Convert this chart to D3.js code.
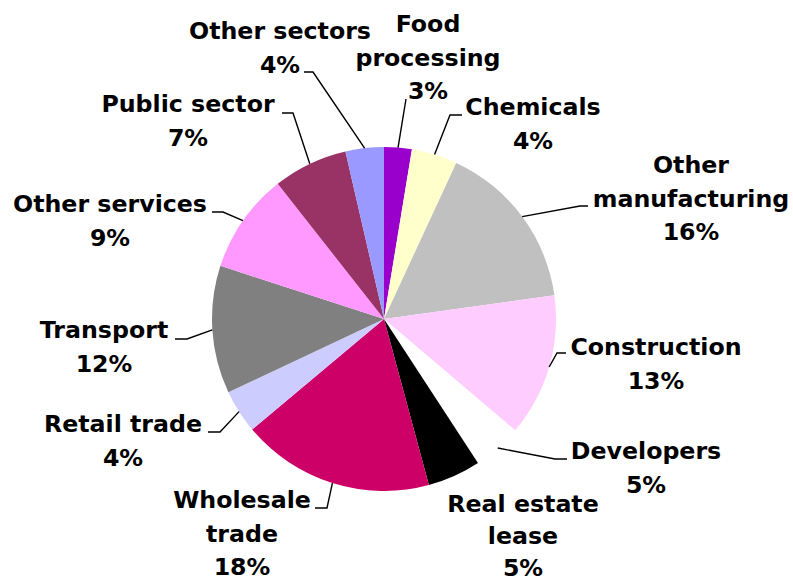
<!DOCTYPE html>
<html>
<head>
<meta charset="utf-8">
<script src="https://cdn.jsdelivr.net/npm/d3@7"></script>
<style>
  body { margin: 0; background: #fff; }
  svg text { font-family: "DejaVu Sans", Verdana, sans-serif; font-weight: bold; font-size: 23.7px; fill: #000; }
</style>
</head>
<body>
<svg id="pie_chart" width="793" height="583"></svg>
<script>
// sector shares, clockwise from 12 o'clock
var sectors = ["Food\nprocessing", "Chemicals", "Other\nmanufacturing", "Construction", "Developers",
               "Real estate\nlease", "Wholesale\ntrade", "Retail trade", "Transport", "Other services",
               "Public sector", "Other sectors"];
var shares = [2.6, 4.3, 15.9, 13.4, 4.6, 5.0, 18.1, 4.1, 12.0, 9.4, 7.0, 3.6];
var colors = ["#9900CC", "#FFFFCC", "#C0C0C0", "#FFCCFF", "#FFFFFF", "#000000",
              "#CC0066", "#CCCCFF", "#808080", "#FF99FF", "#993366", "#9999FF"];

// label placement (text centre x, first baseline y, line gap) and leader start / knee
var labelPos = [
    {x: 428, y: 32,  gap: 33.5, lx: 406, ly: 99,  kx: 406},
    {x: 533, y: 115, gap: 33.5, lx: 462, ly: 115, kx: 450},
    {x: 691, y: 173, gap: 33.5, lx: 588, ly: 206, kx: 580},
    {x: 656, y: 355, gap: 33.5, lx: 566, ly: 353, kx: 557},
    {x: 646, y: 459, gap: 33.5, lx: 567, ly: 459, kx: 555},
    {x: 523, y: 512, gap: 32,   lx: null},
    {x: 242, y: 508, gap: 33.5, lx: 315, ly: 508, kx: 327},
    {x: 123, y: 432, gap: 33.5, lx: 208, ly: 432, kx: 220},
    {x: 104, y: 338, gap: 33.5, lx: 175, ly: 339, kx: 187},
    {x: 110, y: 212, gap: 33.5, lx: 212, ly: 212, kx: 223},
    {x: 188, y: 112, gap: 33.5, lx: 282, ly: 113, kx: 293},
    {x: 280, y: 39,  gap: 33.5, lx: 304, ly: 72,  kx: 313}
];

var svg = d3.select("#pie_chart");
var cx = 384, cy = 319, radius = 172;

var pie = d3.pie().sort(null).value(function(d){ return d; });
var arcs = pie(shares);
var total = d3.sum(shares);

var arc = d3.arc().innerRadius(0).outerRadius(radius);
var edge = d3.arc().innerRadius(radius).outerRadius(radius);

var g = svg.append("g").attr("transform", "translate(" + cx + "," + cy + ")");

g.selectAll(".slice")
    .data(arcs)
    .enter().append("path")
    .attr("class", "slice")
    .attr("d", arc)
    .attr("fill", function(d, i){ return colors[i]; });

// leader lines
svg.selectAll(".leader")
    .data(arcs.filter(function(d, i){ return labelPos[i].lx !== null; }))
    .enter().append("polyline")
    .attr("class", "leader")
    .attr("fill", "none")
    .attr("stroke", "#000")
    .attr("stroke-width", 1.4)
    .attr("points", function(d){
        var p = labelPos[d.index];
        var e = edge.centroid(d);
        return [[p.lx, p.ly], [p.kx, p.ly], [cx + e[0], cy + e[1]]].join(" ");
    });

// labels
var labels = svg.selectAll(".label")
    .data(arcs)
    .enter().append("text")
    .attr("class", "label")
    .attr("text-anchor", "middle");

labels.each(function(d, i){
    var lines = sectors[i].split("\n");
    lines.push(Math.round(d.value / total * 100) + "%");
    var t = d3.select(this);
    lines.forEach(function(s, k){
        t.append("tspan")
            .attr("x", labelPos[i].x)
            .attr("y", labelPos[i].y + k * labelPos[i].gap)
            .text(s);
    });
});
</script>
</body>
</html>
